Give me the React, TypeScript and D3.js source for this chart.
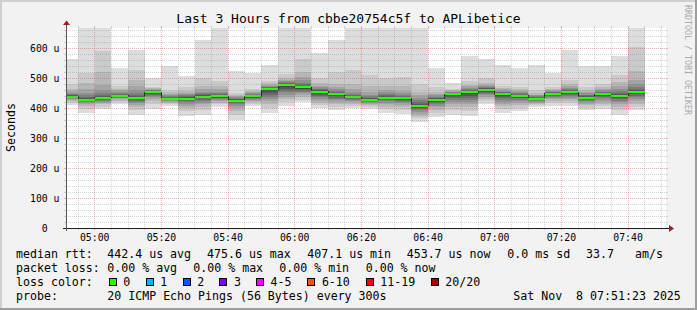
import React from 'react';
import * as d3 from 'd3';

const W = 697;
const H = 310;
const TITLE = 'Last 3 Hours from cbbe20754c5f to APLibetice';
const RANGE_START = '04:51:23';
const RANGE_END = '07:51:23';
const FIRST_BIN = '04:50:00';
const STEP_SEC = 300;
const Y_MAX = 666.67;
const yMajorTicks = [0, 100, 200, 300, 400, 500, 600];
const yUnit = 'u';
const timeLabels = ['05:00', '05:20', '05:40', '06:00', '06:20', '06:40', '07:00', '07:20', '07:40'];

// median RTT per 5-minute bin (microseconds)
const medians = [
  438, 428, 434, 441, 435, 452, 431, 431, 438, 439,
  425, 439, 462, 475.6, 468.7, 454, 445.5, 435.5, 427.7, 434,
  432, 407.1, 427.7, 445.5, 452, 461, 445.5, 441, 431, 447.7,
  452, 434, 445.5, 441, 453.7,
];

// 20 sorted ping RTTs per bin (microseconds) – the "smoke"
const pings = [
  [410, 418, 423, 427, 430, 432, 434, 435, 436, 437, 439, 440, 442, 444, 447, 451, 456, 465, 480, 564],
  [385, 398, 406, 412, 416, 419, 422, 424, 426, 427, 429, 431, 434, 438, 443, 450, 462, 485, 517, 720],
  [397, 405, 412, 417, 421, 425, 428, 430, 432, 433, 435, 437, 440, 444, 450, 460, 478, 520, 589, 700],
  [414, 420, 425, 429, 432, 435, 437, 438, 439, 440, 442, 443, 445, 447, 450, 454, 459, 465, 474, 535],
  [378, 392, 402, 410, 416, 421, 425, 429, 432, 434, 436, 438, 441, 445, 451, 460, 472, 492, 528, 593],
  [398, 412, 422, 430, 436, 441, 445, 448, 450, 451, 453, 454, 455, 457, 459, 461, 463, 466, 470, 501],
  [406, 412, 417, 421, 424, 426, 428, 429, 430, 430.5, 431.5, 433, 435, 437, 440, 443, 447, 452, 460, 541],
  [374, 390, 400, 408, 414, 419, 423, 426, 428, 430, 432, 434, 436, 439, 442, 446, 451, 458, 470, 507],
  [376, 392, 404, 412, 418, 423, 428, 432, 435, 437, 439, 441, 443, 446, 450, 455, 462, 475, 500, 628],
  [404, 412, 418, 423, 427, 430, 433, 435, 437, 438, 440, 441, 443, 446, 450, 455, 462, 472, 490, 690],
  [360, 378, 390, 400, 407, 412, 416, 419, 422, 424, 426, 427, 429, 431, 433, 436, 439, 443, 450, 524],
  [408, 414, 419, 423, 427, 430, 433, 435, 437, 438, 440, 441, 443, 445, 447, 450, 453, 458, 465, 518],
  [384, 400, 412, 422, 430, 437, 443, 450, 456, 460, 464, 465, 467, 469, 471, 474, 477, 482, 489, 542],
  [408, 420, 430, 438, 445, 452, 458, 464, 469, 474, 477.2, 479, 481, 484, 487, 490, 494, 500, 514, 700],
  [419, 428, 436, 443, 449, 454, 458, 462, 465, 467.7, 469.7, 472, 475, 479, 484, 492, 503, 520, 563, 720],
  [400, 410, 418, 425, 431, 436, 441, 445, 449, 453, 455, 457, 459, 462, 465, 469, 474, 482, 500, 585],
  [395, 405, 413, 420, 426, 431, 435, 439, 442, 444.5, 446.5, 448, 450, 453, 457, 462, 469, 480, 520, 628],
  [400, 408, 414, 419, 423, 427, 430, 432, 434, 435, 436, 438, 440, 443, 447, 453, 462, 480, 528, 680],
  [398, 405, 410, 414, 418, 421, 423, 425, 426, 427, 428.4, 430, 432, 435, 439, 445, 455, 472, 511, 700],
  [385, 396, 405, 412, 418, 422, 426, 429, 431, 433, 435, 437, 439, 442, 446, 452, 460, 475, 500, 690],
  [380, 393, 403, 410, 416, 421, 425, 428, 430, 431, 433, 435, 437, 440, 444, 450, 458, 475, 505, 700],
  [355, 366, 374, 381, 387, 392, 397, 401, 404, 406, 408.2, 411, 415, 420, 426, 433, 442, 455, 480, 690],
  [370, 384, 394, 402, 408, 413, 417, 421, 424, 427, 428.4, 430, 432, 435, 438, 442, 447, 455, 470, 533],
  [378, 392, 403, 412, 420, 427, 433, 438, 442, 445, 446, 447, 448, 450, 452, 454, 456, 459, 465, 485],
  [374, 390, 402, 412, 420, 428, 435, 441, 446, 450, 454, 456, 458, 461, 464, 468, 472, 478, 490, 572],
  [414, 422, 430, 436, 442, 447, 451, 455, 458, 460, 462, 464, 466, 468, 471, 474, 478, 485, 500, 563],
  [383, 396, 406, 414, 421, 427, 432, 437, 441, 444.5, 446.5, 448, 450, 452, 455, 458, 462, 467, 475, 542],
  [391, 401, 410, 417, 423, 428, 432, 435, 438, 440, 442, 443, 445, 447, 450, 453, 457, 462, 470, 534],
  [405, 410, 414, 418, 421, 424, 426, 428, 429, 430, 432, 433, 435, 437, 439, 442, 445, 450, 460, 545],
  [408, 416, 423, 429, 434, 438, 441, 444, 446, 447, 448.4, 450, 451, 453, 455, 457, 460, 464, 470, 517],
  [407, 416, 423, 429, 434, 439, 443, 446, 449, 451, 453, 455, 457, 460, 463, 467, 472, 480, 495, 593],
  [392, 401, 409, 415, 420, 424, 427, 430, 432, 433, 435, 437, 439, 442, 445, 449, 454, 460, 470, 541],
  [396, 406, 414, 421, 427, 432, 436, 440, 443, 445, 446, 448, 450, 452, 455, 459, 464, 470, 480, 541],
  [377, 392, 403, 412, 419, 425, 430, 434, 437, 440, 442, 444, 447, 451, 456, 463, 472, 487, 510, 575],
  [393, 405, 415, 423, 430, 436, 441, 446, 450, 453, 454.4, 456, 459, 463, 470, 480, 495, 525, 603, 720],
];

const smokeGrays = ['#dddddd', '#cacaca', '#b7b7b7', '#a4a4a4', '#919191', '#7e7e7e', '#6b6b6b', '#585858', '#454545', '#323232'];

const lossLabels = ['0', '1', '2', '3', '4-5', '6-10', '11-19', '20/20'];
const lossColors = ['#26ff00', '#00b8ff', '#0059ff', '#7e00ff', '#ff00ff', '#ff5500', '#ff0000', '#a10000'];
const lossBoxX = [108.7, 145.7, 182.7, 219.3, 256, 307.3, 365.7, 430.7];

const legendRtt = [
  ['median rtt:', 16], ['442.4 us avg', 107.3], ['475.6 us max', 207], ['407.1 us min', 307.3],
  ['453.7 us now', 406.7], ['0.0 ms sd', 507.3], ['33.7', 586], ['am/s', 635],
];
const legendLoss = [
  ['packet loss:', 16], ['0.00 % avg', 107.3], ['0.00 % max', 193.3], ['0.00 % min', 279.3], ['0.00 % now', 365.7],
];
const legendProbe = [
  ['probe:', 16], ['20 ICMP Echo Pings (56 Bytes) every 300s', 107.3], ['Sat Nov\u00a0 8 07:51:23 2025', 513.3],
];

const sec = (s: string) => {
  const p = s.split(':').map(Number);
  return p[0] * 3600 + p[1] * 60 + (p[2] || 0);
};

const MONO = '"DejaVu Sans Mono", monospace';

export default function App() {
  const x0 = 66, x1 = 666, yTop = 28, yBot = 228;
  const x = d3.scaleLinear().domain([sec(RANGE_START), sec(RANGE_END)]).range([x0, x1]);
  const y = d3.scaleLinear().domain([0, Y_MAX]).range([yBot, yTop]);
  const tFirst = sec(FIRST_BIN);
  const binX = (k: number) => Math.max(x0, x(tFirst + k * STEP_SEC));
  const binX2 = (k: number) => Math.min(x1, x(tFirst + (k + 1) * STEP_SEC));

  const hMinor: number[] = [];
  for (let v = 20; v < Y_MAX; v += 20) if (v % 100 !== 0) hMinor.push(v);
  const vMinor: number[] = [];
  const vMajor = timeLabels.map(sec);
  for (let t = Math.ceil(sec(RANGE_START) / STEP_SEC) * STEP_SEC; t < sec(RANGE_END); t += STEP_SEC) {
    if (t % 1200 !== 0) vMinor.push(t);
  }
  const px = (v: number) => Math.floor(v) + 0.5;

  const minorCol = 'rgba(128,128,128,0.33)';
  const majorCol = 'rgba(225,70,70,0.42)';

  const stepPts: [number, number][] = medians.map((m, k) => [binX(k), y(m)]);
  stepPts.push([binX2(medians.length - 1), y(medians[medians.length - 1])]);
  const stepLine = d3.line().curve(d3.curveStepAfter)(stepPts) || '';

  const hLine = (yy: number, col: string, key: string) => (
    <g key={key}>
      <line x1={x0 - 2} x2={x0} y1={yy} y2={yy} stroke={col} strokeWidth={1} />
      <line x1={x0} x2={x1} y1={yy} y2={yy} stroke={col} strokeWidth={1} strokeDasharray="1,1" />
      <line x1={x1} x2={x1 + 2} y1={yy} y2={yy} stroke={col} strokeWidth={1} />
    </g>
  );
  const vLine = (xx: number, col: string, key: string) => (
    <g key={key}>
      <line x1={xx} x2={xx} y1={yTop - 2} y2={yTop} stroke={col} strokeWidth={1} />
      <line x1={xx} x2={xx} y1={yTop} y2={yBot} stroke={col} strokeWidth={1} strokeDasharray="1,1" />
      <line x1={xx} x2={xx} y1={yBot} y2={yBot + 2} stroke={col} strokeWidth={1} />
    </g>
  );

  const pre = { whiteSpace: 'pre' as const };

  return (
    <svg width={W} height={H} viewBox={`0 0 ${W} ${H}`}
      style={{ position: 'absolute', left: 0, top: 0, display: 'block' }}
      fontFamily={MONO}>
      <defs>
        <clipPath id="plotClip">
          <rect x={x0} y={yTop} width={x1 - x0} height={yBot - yTop} />
        </clipPath>
      </defs>
      <rect x={0} y={0} width={W} height={H} fill="#f2f2f2" />
      <rect x={0} y={0} width={W} height={2} fill="#cfcfcf" />
      <rect x={0} y={0} width={2} height={H} fill="#cfcfcf" />
      <rect x={0} y={H - 2} width={W} height={2} fill="#9e9e9e" />
      <rect x={W - 2} y={0} width={2} height={H} fill="#9e9e9e" />
      <rect x={x0} y={yTop} width={x1 - x0} height={yBot - yTop} fill="#ffffff" />

      {/* smoke */}
      <g clipPath="url(#plotClip)" shapeRendering="crispEdges">
        {smokeGrays.map((col, i) => (
          <g key={'s' + i}>
            {pings.map((p, k) => {
              const lo = p[i], hi = p[p.length - 1 - i];
              const ya = y(hi), yb = y(lo);
              return <rect key={k} x={binX(k)} width={binX2(k) - binX(k)} y={ya} height={Math.max(0, yb - ya)} fill={col} />;
            })}
          </g>
        ))}
        <path d={stepLine} fill="none" stroke="#202020" strokeWidth={1} />
        {medians.map((m, k) => (
          <rect key={'g' + k} x={binX(k)} width={binX2(k) - binX(k)} y={y(m) - 1} height={2} fill={lossColors[0]} />
        ))}
      </g>

      {/* grid */}
      <g shapeRendering="crispEdges">
        {hMinor.map((v) => hLine(px(y(v)), minorCol, 'hm' + v))}
        {vMinor.map((t) => vLine(px(x(t)), minorCol, 'vm' + t))}
        {yMajorTicks.filter((v) => v > 0).map((v) => hLine(px(y(v)), majorCol, 'hM' + v))}
        {vMajor.map((t) => vLine(px(x(t)), majorCol, 'vM' + t))}
      </g>

      {/* axes */}
      <g shapeRendering="crispEdges">
        <line x1={x0 - 3} x2={x1 + 4} y1={yBot + 0.5} y2={yBot + 0.5} stroke="#1f1f1f" strokeWidth={1} />
        <line x1={x0 + 0.5} x2={x0 + 0.5} y1={yBot + 3} y2={yTop - 4} stroke="#555555" strokeWidth={1} />
      </g>
      <path d={`M${x1 + 3},${yBot - 3} L${x1 + 8},${yBot + 0.5} L${x1 + 3},${yBot + 4} Z`} fill="#9b2020" />
      <path d={`M${x0 - 3},${yTop - 3} L${x0 + 0.5},${yTop - 7.5} L${x0 + 4},${yTop - 3} Z`} fill="#9b2020" />

      <g fontSize={9.8} fill="#000">
        {yMajorTicks.map((v) => (
          <g key={'yl' + v}>
            <text x={47.7} y={y(v) + 3.8} textAnchor="end">{String(v)}</text>
            {v > 0 && <text x={53.6} y={y(v) + 3.8}>{yUnit}</text>}
          </g>
        ))}
      </g>
      <g fontSize={9.8} fill="#000">
        {timeLabels.map((l) => (
          <text key={l} x={x(sec(l))} y={241} textAnchor="middle">{l}</text>
        ))}
      </g>

      <text x={W / 2} y={23.3} textAnchor="middle" fontSize={13} fill="#000">{TITLE}</text>
      <text transform="translate(15,127.5) rotate(-90)" textAnchor="middle" fontSize={11.6} fill="#000">Seconds</text>
      <text transform="translate(684.5,5) rotate(90)" fontSize={8.3} fill="#a9a9a9">RRDTOOL / TOBI OETIKER</text>

      <g fontSize={11.6} fill="#000">
        {legendRtt.map(([t, xx]) => <text key={'r' + t} x={xx as number} y={258.3} style={pre}>{t}</text>)}
        {legendLoss.map(([t, xx]) => <text key={'l' + t} x={xx as number} y={272.3} style={pre}>{t}</text>)}
        <text x={16} y={286.3}>loss color:</text>
        {lossLabels.map((l, i) => (
          <g key={'lc' + l}>
            <rect x={lossBoxX[i] + 0.5} y={278.5} width={7} height={7} fill={lossColors[i]} stroke="#000" strokeWidth={1} shapeRendering="crispEdges" />
            <text x={lossBoxX[i] + 14.6} y={286.3}>{l}</text>
          </g>
        ))}
        {legendProbe.map(([t, xx]) => <text key={'p' + t} x={xx as number} y={300} style={pre}>{t}</text>)}
      </g>
    </svg>
  );
}
